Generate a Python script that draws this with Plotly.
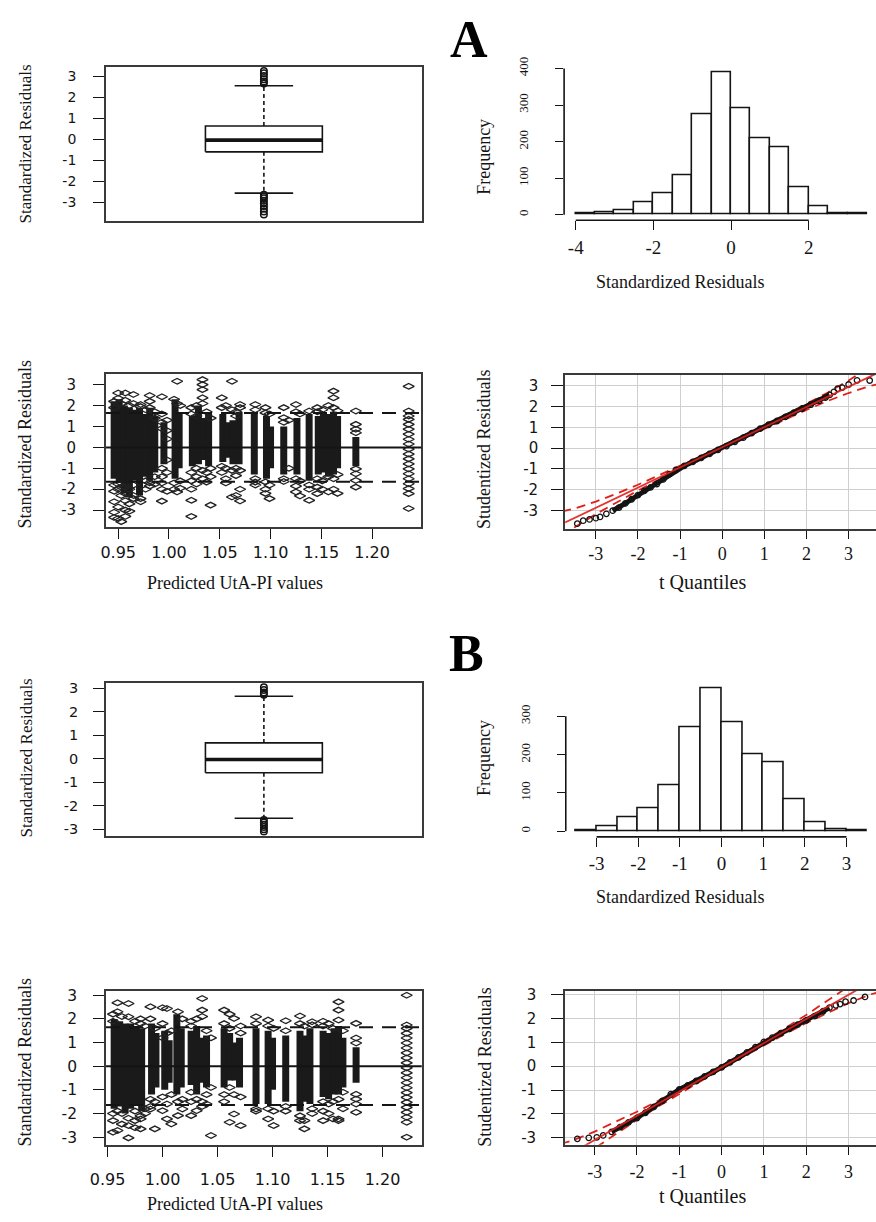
import plotly.graph_objects as go

W, H = 876, 1222
SERIF = "Liberation Serif"
SANS = "DejaVu Sans"
INK = "#141414"
FRAME = "#3a3a3a"
RED = "#e0201b"

# ---------------- data ----------------
# boxplot summaries: [lower whisker, Q1, median, Q3, upper whisker]
A_box_stats = [-2.56, -0.59, -0.03, 0.64, 2.56]
A_box_out = [3.27, 3.16, 3.03, 2.87, 2.76, 2.67,
             -2.64, -2.72, -2.80, -2.92, -3.05, -3.17, -3.30, -3.43, -3.58]
B_box_stats = [-2.54, -0.60, -0.035, 0.67, 2.66]
B_box_out = [3.04, 2.93, 2.82, 2.72, -2.62, -2.72, -2.82, -2.91, -3.01, -3.11]

# histograms of standardized residuals
A_hist_breaks = [-4.0, -3.5, -3.0, -2.5, -2.0, -1.5, -1.0, -0.5, 0.0, 0.5, 1.0, 1.5, 2.0, 2.5, 3.0, 3.5]
A_hist_counts = [3, 7, 11, 34, 58, 107, 275, 390, 292, 209, 184, 74, 23, 5, 3]
A_hist_xticks = [-4, -2, 0, 2]
A_hist_yticks = [0, 100, 200, 300, 400]
B_hist_breaks = [-3.5, -3.0, -2.5, -2.0, -1.5, -1.0, -0.5, 0.0, 0.5, 1.0, 1.5, 2.0, 2.5, 3.0, 3.5]
B_hist_counts = [3, 14, 36, 61, 119, 272, 374, 285, 200, 181, 83, 24, 5, 2]
B_hist_xticks = [-3, -2, -1, 0, 1, 2, 3]
B_hist_yticks = [0, 100, 200, 300]

# residuals vs predicted: dense cores of overlapping points per predicted value
A_core_x = [0.946, 0.951, 0.956, 0.961, 0.965, 0.971, 0.975, 0.981, 0.986, 0.995, 1.006, 1.010,
            1.023, 1.029, 1.034, 1.039, 1.053, 1.058, 1.063, 1.069, 1.084, 1.096, 1.100, 1.113,
            1.126, 1.138, 1.147, 1.152, 1.157, 1.162, 1.166, 1.184]
A_core_lo = [-1.5, -1.7, -2.2, -2.4, -1.6, -2.3, -1.4, -1.6, -1.2, -0.8, -1.5, -1.0,
             -0.9, -0.8, -0.6, -0.9, -0.7, -0.5, -0.8, -0.8, -1.3, -1.5, -1.0, -1.3,
             -1.3, -1.6, -1.3, -1.2, -1.4, -1.3, -1.0, -0.9]
A_core_hi = [2.2, 2.3, 2.0, 1.9, 1.8, 1.9, 1.6, 1.9, 1.5, 1.2, 2.3, 1.6,
             1.5, 2.0, 1.4, 1.6, 1.6, 1.2, 1.3, 1.7, 1.6, 1.5, 1.0, 1.0,
             1.4, 1.6, 1.5, 1.6, 1.6, 1.7, 1.5, 0.5]
# individually visible points: (predicted value, residuals)
A_points = [
    (0.946, [2.2, 1.9, -1.8, -2.1, -2.6, -3.1, -3.35]),
    (0.950, [2.6, 2.35, -1.75, -2.0, -2.85, -3.4]),
    (0.953, [2.1, -1.9, -2.3, -3.55]),
    (0.957, [2.6, 2.25, -1.9, -2.2, -2.55, -3.0, -3.3]),
    (0.961, [2.0, -2.0, -2.7, -3.05]),
    (0.965, [2.53, 2.1, -1.8, -2.3, -2.45]),
    (0.972, [2.05, 1.95, -2.45, -2.6]),
    (0.977, [1.8, -1.6, -2.0]),
    (0.981, [2.48, 2.2, 1.9, -1.7, -1.85]),
    (0.986, [1.7, 1.4, -1.4, -1.75]),
    (0.993, [2.42, 1.6, 1.2, 0.9, -1.0, -1.4, -1.7, -2.0, -2.57]),
    (0.998, [1.3, 0.8, 0.4, -0.6, -1.2, -2.1]),
    (1.005, [2.3, -1.7, -2.0]),
    (1.008, [3.16, 2.1, -2.13]),
    (1.011, [2.0, -1.6, -1.95]),
    (1.022, [1.9, 1.6, -1.2, -1.6, -2.0, -2.53, -3.3]),
    (1.027, [2.0, 1.5, -1.0, -1.4, -1.75]),
    (1.033, [3.24, 3.0, 2.76, 2.37, 2.1, -1.1, -1.5]),
    (1.037, [1.7, -1.2, -1.66]),
    (1.041, [1.4, -1.0, -1.4, -2.76]),
    (1.052, [2.37, 1.9, -0.9, -1.2]),
    (1.056, [2.0, -1.0, -1.5, -1.7]),
    (1.062, [3.16, 1.8, -1.1, -2.37]),
    (1.066, [1.7, 1.5, -1.0, -1.35, -2.3]),
    (1.070, [2.05, 1.9, -1.1, -2.0, -2.56]),
    (1.085, [2.05, 1.8, -1.5, -1.66, -1.8]),
    (1.095, [1.9, 1.65, -1.65, -2.0, -2.2]),
    (1.099, [1.6, -1.8, -2.45]),
    (1.113, [1.9, 1.42, 1.2, -1.5, -1.63]),
    (1.118, [1.3, -1.0]),
    (1.125, [2.05, 1.7, -1.5, -1.85, -2.13]),
    (1.129, [1.6, -1.6, -2.32]),
    (1.138, [1.74, -1.8, -2.0, -2.53]),
    (1.146, [1.9, 1.7, -1.5, -1.9, -2.21]),
    (1.151, [1.8, -1.6, -2.0]),
    (1.157, [2.0, -1.4, -2.13]),
    (1.162, [2.69, 2.37, 1.9, -1.5, -2.0]),
    (1.166, [1.75, -1.3, -2.2]),
    (1.184, [1.74, 1.1, 0.87, 0.7, -1.03, -1.26, -1.58, -1.9]),
    (1.236, [2.92, 1.74, 1.5, 1.34, 1.1, 0.87, 0.63, 0.39, 0.16, -0.08, -0.32, -0.55,
             -0.79, -1.03, -1.26, -1.5, -1.74, -1.97, -2.21, -2.92]),
]

B_core_x = [0.956, 0.961, 0.966, 0.971, 0.976, 0.981, 0.990, 0.994, 1.002, 1.006, 1.013, 1.017,
            1.026, 1.031, 1.036, 1.040, 1.056, 1.061, 1.066, 1.070, 1.085, 1.096, 1.100, 1.112,
            1.125, 1.130, 1.134, 1.146, 1.151, 1.156, 1.160, 1.164, 1.176]
B_core_lo = [-1.8, -1.7, -2.0, -1.8, -1.6, -1.9, -1.2, -0.9, -1.0, -0.7, -1.2, -0.9,
             -0.8, -1.2, -0.7, -0.9, -0.9, -0.6, -0.6, -0.9, -1.6, -1.6, -1.0, -1.5,
             -1.9, -1.5, -1.6, -1.3, -1.4, -1.2, -1.2, -0.9, -0.7]
B_core_hi = [2.0, 1.9, 1.8, 1.8, 1.7, 1.6, 1.8, 1.4, 1.5, 1.1, 2.2, 1.6,
             1.5, 1.7, 1.2, 1.3, 1.6, 1.4, 1.0, 1.2, 1.6, 1.5, 1.2, 1.3,
             1.5, 1.3, 1.6, 1.5, 1.4, 1.6, 1.7, 1.2, 0.8]
B_points = [
    (0.955, [2.2, 1.9, -2.0, -2.3, -2.79]),
    (0.959, [2.68, 2.3, -1.9, -2.72]),
    (0.963, [2.1, -2.0, -2.45]),
    (0.969, [2.65, 2.09, -2.2, -2.51, -3.03]),
    (0.975, [1.9, -1.9, -2.3, -2.6]),
    (0.980, [2.0, 1.8, -2.1, -2.23, -2.65]),
    (0.984, [1.7, -1.8, -2.0]),
    (0.989, [2.51, 2.0, -1.4, -1.7, -1.81]),
    (0.993, [1.6, -1.5, -2.65]),
    (1.000, [2.47, 1.8, 1.2, -1.3, -1.88]),
    (1.004, [2.44, 1.4, -1.6, -2.23]),
    (1.008, [1.5, -1.2, -2.44]),
    (1.014, [2.3, -1.5, -2.09]),
    (1.018, [2.0, -1.4, -1.81]),
    (1.026, [1.9, 1.7, -1.1, -1.5, -2.09]),
    (1.031, [2.0, -1.4, -1.88]),
    (1.036, [2.86, 2.37, 2.1, -1.5, -1.7]),
    (1.040, [1.5, -1.2, -1.6]),
    (1.044, [1.2, -0.9, -2.93]),
    (1.056, [2.37, 1.8, -1.2, -1.5]),
    (1.061, [2.2, 1.6, -0.9, -2.37]),
    (1.065, [2.02, -1.2, -2.02]),
    (1.071, [1.7, 1.4, -1.3, -2.51]),
    (1.085, [2.09, 1.8, -1.81, -1.9]),
    (1.096, [1.95, 1.7, -1.8, -2.23]),
    (1.101, [1.6, -1.9, -2.51]),
    (1.112, [1.92, 1.5, -1.7, -1.9]),
    (1.125, [2.12, 1.8, -2.1, -2.3]),
    (1.129, [1.7, -2.3, -2.65]),
    (1.136, [1.88, 1.75, -1.8, -2.0]),
    (1.146, [1.9, 1.7, -1.5, -1.9, -2.3]),
    (1.151, [1.8, -1.6, -2.0]),
    (1.155, [1.6, -1.5, -2.23]),
    (1.160, [2.72, 2.37, 1.95, -1.4, -2.23, -2.3]),
    (1.164, [1.5, -1.1, -1.8]),
    (1.176, [1.81, 1.19, 0.98, -1.19, -1.39, -1.6, -1.95]),
    (1.222, [3.0, 1.74, 1.6, 1.39, 1.19, 0.98, 0.77, 0.56, 0.35, 0.14, -0.07, -0.28,
             -0.49, -0.7, -0.91, -1.12, -1.32, -1.53, -1.74, -1.95, -2.16, -2.37, -3.0]),
]
resid_zero = [0.0]
resid_limits = [-1.645, 1.645]
pred_ticks = [0.95, 1.00, 1.05, 1.10, 1.15, 1.20]
resid_ticks = [-3, -2, -1, 0, 1, 2, 3]

# QQ plots: t quantiles vs ordered studentized residuals
A_qq_t = [-3.44, -3.30, -3.15, -3.00, -2.90, -2.75, -2.60, -2.45, -2.30, -2.15, -2.00, -1.85,
          -1.70, -1.55, -1.40, -1.25, -1.10, -0.90, -0.70, -0.50, -0.30, -0.10, 0.10, 0.30,
          0.50, 0.70, 0.90, 1.10, 1.30, 1.50, 1.70, 1.90, 2.10, 2.30, 2.45, 2.55, 2.65, 2.74,
          2.85, 3.00, 3.20, 3.50]
A_qq_res = [-3.62, -3.48, -3.42, -3.36, -3.30, -3.15, -3.00, -2.85, -2.65, -2.45, -2.25, -2.05,
            -1.88, -1.72, -1.50, -1.25, -1.05, -0.85, -0.66, -0.47, -0.28, -0.08, 0.10, 0.30,
            0.50, 0.72, 0.93, 1.12, 1.30, 1.50, 1.70, 1.90, 2.08, 2.27, 2.42, 2.55, 2.70, 2.85,
            2.90, 3.05, 3.25, 3.24]
A_qq_fit = [0.04, 0.967]          # intercept, slope
B_qq_t = [-3.41, -3.14, -2.95, -2.80, -2.60, -2.40, -2.20, -2.00, -1.80, -1.60, -1.40, -1.20,
          -1.00, -0.80, -0.60, -0.40, -0.20, 0.00, 0.20, 0.40, 0.60, 0.80, 1.00, 1.20, 1.40,
          1.60, 1.80, 2.00, 2.20, 2.40, 2.55, 2.70, 2.80, 2.93, 3.12, 3.39]
B_qq_res = [-3.04, -3.00, -2.98, -2.90, -2.75, -2.55, -2.35, -2.17, -1.95, -1.70, -1.45, -1.17,
            -0.97, -0.80, -0.62, -0.43, -0.24, -0.05, 0.16, 0.37, 0.58, 0.80, 1.02, 1.20, 1.38,
            1.56, 1.74, 1.92, 2.10, 2.30, 2.45, 2.55, 2.60, 2.70, 2.75, 2.90]
B_qq_fit = [-0.05, 1.013]
env_t = [-3.8, -3.5, -3.0, -2.5, -2.0, -1.5, -1.0, -0.5, 0.0, 0.5, 1.0, 1.5, 2.0, 2.5, 3.0, 3.5, 3.8]
A_env_half = [0.60, 0.45, 0.30, 0.20, 0.14, 0.10, 0.08, 0.06, 0.06, 0.06, 0.08, 0.10, 0.14, 0.20, 0.30, 0.45, 0.60]
B_env_half = [0.65, 0.50, 0.35, 0.25, 0.17, 0.12, 0.09, 0.07, 0.06, 0.07, 0.09, 0.12, 0.17, 0.25, 0.35, 0.50, 0.65]
qq_ticks = [-3, -2, -1, 0, 1, 2, 3]


# ---------------- layout helpers ----------------
def xdom(x0, x1):
    return [x0 / W, min(x1 / W, 1.0)]


def ydom(y0, y1):
    return [1 - y1 / H, 1 - y0 / H]


def labels(vals, fmt="{:g}"):
    # plain hyphen-minus, as in base-graphics output
    return [fmt.format(v).replace("\u2212", "-") for v in vals]


def axis(dom, rng, anchor, **kw):
    d = dict(domain=dom, range=rng, anchor=anchor, showgrid=False, zeroline=False,
             ticks="outside", tickcolor=INK, tickwidth=1.4, fixedrange=True)
    d.update(kw)
    return d


framed = dict(showline=True, linecolor=FRAME, linewidth=1.8, mirror=True)
fig = go.Figure()
lay = {}
shapes = []


def add(trace, n):
    trace.update(xaxis=f"x{n}", yaxis=f"y{n}", showlegend=False, hoverinfo="skip")
    fig.add_trace(trace)


# ---------------- boxplots ----------------
def boxplot(n, stats, outliers, xd, yd, yr, tick_size, standoff):
    lo, q1, med, q3, hi = stats
    add(go.Scatter(x=[0.8, 1.2, 1.2, 0.8, 0.8], y=[q1, q1, q3, q3, q1], mode="lines",
                   line=dict(color=INK, width=1.6)), n)
    add(go.Scatter(x=[0.8, 1.2], y=[med, med], mode="lines", line=dict(color=INK, width=3.6)), n)
    add(go.Scatter(x=[1, 1, None, 1, 1], y=[q3, hi, None, q1, lo], mode="lines",
                   line=dict(color=INK, width=1.6, dash="4px,3px")), n)
    add(go.Scatter(x=[0.9, 1.1, None, 0.9, 1.1], y=[hi, hi, None, lo, lo], mode="lines",
                   line=dict(color=INK, width=1.6)), n)
    add(go.Scatter(x=[1] * len(outliers), y=outliers, mode="markers",
                   marker=dict(symbol="circle-open", size=6.5, color=INK, line=dict(width=1.5))), n)
    lay[f"xaxis{n}"] = axis(xd, [0.46, 1.54], f"y{n}", ticks="", showticklabels=False, **framed)
    lay[f"yaxis{n}"] = axis(yd, yr, f"x{n}", tickvals=resid_ticks, ticktext=labels(resid_ticks),
                            ticklen=11, ticklabelstandoff=standoff,
                            tickfont=dict(family=SANS, size=tick_size, color=INK), **framed)


boxplot(1, A_box_stats, A_box_out, xdom(91.7, 413.3), ydom(57.3, 212.7), [-3.87, 3.47], 14, 14)
boxplot(5, B_box_stats, B_box_out, xdom(91.7, 413.3), ydom(679.3, 834.0), [-3.29, 3.24], 14.5, 12)


# ---------------- histograms ----------------
def histogram(n, breaks, counts, xticks, yticks, xd, yd, xr, yr, xstand, ystand):
    centers = [(a + b) / 2 for a, b in zip(breaks[:-1], breaks[1:])]
    widths = [b - a for a, b in zip(breaks[:-1], breaks[1:])]
    add(go.Bar(x=centers, y=counts, width=widths,
               marker=dict(color="white", line=dict(color=INK, width=1.6))), n)
    lay[f"xaxis{n}"] = axis(xd, xr, f"y{n}", tickvals=xticks, ticktext=labels(xticks), ticklen=9,
                            ticklabelstandoff=xstand,
                            tickfont=dict(family=SERIF, size=19, color=INK))
    lay[f"yaxis{n}"] = axis(yd, yr, f"x{n}", tickvals=yticks, ticktext=labels(yticks), ticklen=8,
                            tickangle=-90, ticklabelstandoff=ystand,
                            tickfont=dict(family=SERIF, size=13, color=INK))
    shapes.append(dict(type="line", xref=f"x{n}", yref=f"y{n} domain", x0=xticks[0], x1=xticks[-1],
                       y0=0, y1=0, line=dict(color=INK, width=1.6)))
    shapes.append(dict(type="line", xref=f"x{n} domain", yref=f"y{n}", x0=0, x1=0,
                       y0=yticks[0], y1=yticks[-1], line=dict(color=INK, width=1.6)))


histogram(2, A_hist_breaks, A_hist_counts, A_hist_xticks, A_hist_yticks,
          xdom(558.3, 876), ydom(57.8, 212.4), [-4.3, 3.73], [-15.5, 403.5], 1, 22)
histogram(6, B_hist_breaks, B_hist_counts, B_hist_xticks, B_hist_yticks,
          xdom(560, 876), ydom(678.9, 835.1), [-3.74, 3.71], [-15, 389], 0, 22)


# ---------------- residuals vs predicted ----------------
def resid_scatter(n, cx, clo, chi, pts, xd, yd, xr, yr, xstand, ystand, ysize):
    xs, ys = [], []
    for x, lo, hi in zip(cx, clo, chi):
        xs += [x, x, None]
        ys += [lo, hi, None]
    add(go.Scatter(x=xs, y=ys, mode="lines", line=dict(color="#1a1a1a", width=7)), n)
    px, py = [], []
    for x, vals in pts:
        px += [x] * len(vals)
        py += vals
    add(go.Scatter(x=px, y=py, mode="markers",
                   marker=dict(symbol="diamond-wide-open", size=8, color="#222222",
                               line=dict(width=1.3))), n)
    for v in resid_zero:
        shapes.append(dict(type="line", xref=f"x{n} domain", yref=f"y{n}", x0=0, x1=1, y0=v, y1=v,
                           line=dict(color=INK, width=2), layer="above"))
    for v in resid_limits:
        shapes.append(dict(type="line", xref=f"x{n} domain", yref=f"y{n}", x0=0, x1=1, y0=v, y1=v,
                           line=dict(color=INK, width=2, dash="14px,9px"), layer="above"))
    lay[f"xaxis{n}"] = axis(xd, xr, f"y{n}", tickvals=pred_ticks, ticktext=labels(pred_ticks, "{:.2f}"),
                            ticklen=10, ticklabelstandoff=xstand,
                            tickfont=dict(family=SANS, size=16, color=INK), **framed)
    lay[f"yaxis{n}"] = axis(yd, yr, f"x{n}", tickvals=resid_ticks, ticktext=labels(resid_ticks),
                            ticklen=11, ticklabelstandoff=ystand,
                            tickfont=dict(family=SANS, size=ysize, color=INK), **framed)


resid_scatter(3, A_core_x, A_core_lo, A_core_hi, A_points, xdom(91.7, 413.0), ydom(368.0, 522.0),
              [0.938, 1.2486], [-3.8, 3.49], 0, 14, 15)
resid_scatter(7, B_core_x, B_core_lo, B_core_hi, B_points, xdom(91.7, 413.3), ydom(990.7, 1146.7),
              [0.9486, 1.2357], [-3.35, 3.18], 8, 13, 15.5)


# ---------------- QQ plots ----------------
def qqplot(n, qt, qr, fit, half, xd, yd, xr, yr, xstand, ystand):
    a, b = fit
    line_t = [xr[0], xr[1]]
    up = [a + b * t + h for t, h in zip(env_t, half)]
    dn = [a + b * t - h for t, h in zip(env_t, half)]
    add(go.Scatter(x=env_t, y=up, mode="lines", line=dict(color=RED, width=1.8, dash="9px,6px")), n)
    add(go.Scatter(x=env_t, y=dn, mode="lines", line=dict(color=RED, width=1.8, dash="9px,6px")), n)
    inner = [(t, r) for t, r in zip(qt, qr) if abs(t) <= 2.6]
    add(go.Scatter(x=[p[0] for p in inner], y=[p[1] for p in inner], mode="lines",
                   line=dict(color=INK, width=5)), n)
    add(go.Scatter(x=qt, y=qr, mode="markers",
                   marker=dict(symbol="circle-open", size=5.5, color=INK, line=dict(width=1.3))), n)
    add(go.Scatter(x=line_t, y=[a + b * t for t in line_t], mode="lines",
                   line=dict(color=RED, width=1.8), opacity=0.9), n)
    grid = dict(showgrid=True, gridcolor="#cfcfcf", gridwidth=1.4)
    lay[f"xaxis{n}"] = axis(xd, xr, f"y{n}", tickvals=qq_ticks, ticktext=labels(qq_ticks), ticklen=8,
                            ticklabelstandoff=xstand,
                            tickfont=dict(family=SERIF, size=18, color=INK),
                            showline=True, linecolor=FRAME, linewidth=1.8, mirror=True, **grid)
    lay[f"yaxis{n}"] = axis(yd, yr, f"x{n}", tickvals=qq_ticks, ticktext=labels(qq_ticks), ticklen=12,
                            ticklabelstandoff=ystand,
                            tickfont=dict(family=SANS, size=15, color=INK),
                            showline=True, linecolor=FRAME, linewidth=1.8, **grid)


qqplot(4, A_qq_t, A_qq_res, A_qq_fit, A_env_half, xdom(559.3, 876), ydom(368.3, 524.0),
       [-3.73, 3.65], [-3.87, 3.52], 0, 10)
qqplot(8, B_qq_t, B_qq_res, B_qq_fit, B_env_half, xdom(559.3, 876), ydom(990.7, 1146.0),
       [-3.70, 3.65], [-3.29, 3.15], 2, 12)

# ---------------- titles ----------------
titles = [
    ("Standardized Residuals", 10, 135, -90, 17),
    ("Frequency", 476, 148, -90, 18),
    ("Standardized Residuals", 676, 275, 0, 18),
    ("Standardized Residuals", 9, 439, -90, 18),
    ("Predicted UtA-PI values", 223, 579, 0, 18),
    ("Studentized Residuals", 476, 444, -90, 18),
    ("t Quantiles", 699, 578, 0, 20),
    ("Standardized Residuals", 11, 755, -90, 17),
    ("Frequency", 476, 755, -90, 18),
    ("Standardized Residuals", 676, 896, 0, 18),
    ("Standardized Residuals", 9, 1063, -90, 18),
    ("Predicted UtA-PI values", 223, 1206, 0, 18),
    ("Studentized Residuals", 477, 1068, -90, 18),
    ("t Quantiles", 699, 1198, 0, 20),
]
ann = [dict(text=t, x=x / W, y=1 - y / H, xref="paper", yref="paper", showarrow=False,
            xanchor="center", yanchor="middle", textangle=a,
            font=dict(family=SERIF, size=s, color=INK)) for t, x, y, a, s in titles]
# panel letters, anchored by their top edge
for letter, x, y in [("A", 461, 0), ("B", 459, 620)]:
    ann.append(dict(text=f"<b>{letter}</b>", x=x / W, y=1 - y / H, xref="paper", yref="paper",
                    showarrow=False, xanchor="center", yanchor="top", borderpad=0,
                    font=dict(family=SERIF, size=52, color="#000000")))

fig.update_layout(width=W, height=H, autosize=False, margin=dict(l=0, r=0, t=0, b=0),
                  paper_bgcolor="white", plot_bgcolor="white", annotations=ann, shapes=shapes,
                  bargap=0, **lay)
fig.write_html("out.html")
